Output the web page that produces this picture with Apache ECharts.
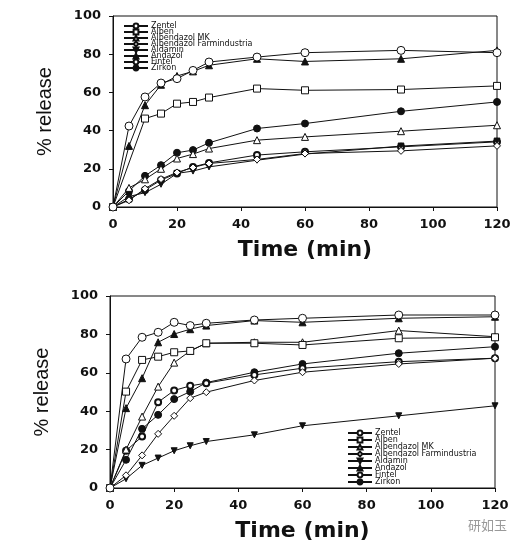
<!DOCTYPE html>
<html><head><meta charset="utf-8">
<script src="https://cdn.jsdelivr.net/npm/echarts@6/dist/echarts.min.js"></script>
<style>html,body{margin:0;padding:0;background:#fff}#c{width:524px;height:553px}</style>
</head><body><div id="c"></div>
<script>
const times = [0, 5, 10, 15, 20, 25, 30, 45, 60, 90, 120];
const names = ['Zentel','Alben','Albendazol MK','Albendazol Farmindustria','Aldamin','Andazol','Fintel','Zirkon'];
const xTicks = [0, 20, 40, 60, 80, 100, 120];
const yTicks = [0, 20, 40, 60, 80, 100];

// Top panel
const topZentel   = [0, 42.4, 57.6, 64.9, 67.2, 71.5, 75.9, 78.5, 80.8, 82.0, 80.8];
const topAlben    = [0, null, 46.3, 48.9, 54.1, 55.0, 57.3, 62.0, 61.1, 61.5, 63.4];
const topMK       = [0, 10.0, 14.5, 20.0, 25.4, 27.7, 30.6, 35.0, 36.7, 39.7, 42.8];
const topFarm     = [0, 3.5, 9.6, 14.6, 18.1, 20.7, 22.8, 24.9, 28.0, 29.4, 32.0];
const topAldamin  = [0, 5.5, 7.5, 11.9, 17.6, 18.8, 21.0, 24.5, 27.7, 31.9, 34.5];
const topAndazol  = [0, 32.0, 53.3, 64.0, 68.6, 71.0, 74.2, 77.6, 76.2, 77.6, 82.0];
const topFintel   = [0, 4.0, 8.9, 14.1, 17.6, 21.0, 23.1, 27.2, 28.9, 31.5, 34.1];
const topZirkon   = [0, 8.4, 16.3, 21.9, 28.4, 29.8, 33.6, 41.1, 43.7, 50.1, 55.0];

// Bottom panel
const botZentel   = [0, 67.2, 78.5, 81.1, 86.3, 84.6, 85.8, 87.5, 88.4, 90.1, 90.1];
const botAlben    = [0, 50.2, 66.7, 68.4, 70.7, 71.4, 75.4, 75.4, 74.5, 78.0, 78.5];
const botMK       = [0, 20.0, 37.2, 52.8, 65.3, 71.4, 75.4, 75.9, 75.9, 82.0, 78.8];
const botFarm     = [0, 6.6, 17.0, 28.2, 37.6, 46.8, 49.9, 56.0, 60.3, 64.6, 67.6];
const botAldamin  = [0, 4.8, 11.8, 15.6, 19.4, 22.0, 24.2, 27.7, 32.4, 37.6, 42.8];
const botAndazol  = [0, 41.6, 57.2, 75.9, 80.2, 82.7, 84.6, 87.2, 86.3, 88.4, 89.2];
const botFintel   = [0, 19.4, 26.8, 44.7, 50.8, 53.2, 54.6, 58.9, 62.4, 65.8, 67.6];
const botZirkon   = [0, 14.7, 30.8, 38.1, 46.3, 50.2, 54.9, 60.3, 64.6, 70.2, 73.6];

const topData = [topZentel, topAlben, topMK, topFarm, topAldamin, topAndazol, topFintel, topZirkon];
const botData = [botZentel, botAlben, botMK, botFarm, botAldamin, botAndazol, botFintel, botZirkon];

const styles = [
  {symbol:'circle', size:8, fill:'#fff', bw:1},
  {symbol:'rect', size:7, fill:'#fff', bw:1},
  {symbol:'triangle', size:7, fill:'#fff', bw:1},
  {symbol:'diamond', size:7, fill:'#fff', bw:1},
  {symbol:'triangle', size:6, fill:'#111', bw:1, rotate:180},
  {symbol:'triangle', size:7, fill:'#111', bw:1},
  {symbol:'circle', size:6, fill:'#fff', bw:2},
  {symbol:'circle', size:7, fill:'#111', bw:1}
];

const F = 'DejaVu Sans';
function mkSeries(data, idx) {
  return names.map((n, i) => ({
    name: n, type: 'line', xAxisIndex: idx, yAxisIndex: idx,
    data: times.map((t, k) => [t, data[i][k]]).filter(p => p[1] !== null),
    symbol: styles[i].symbol, symbolSize: styles[i].size,
    symbolRotate: styles[i].rotate || 0, showAllSymbol: true,
    lineStyle: {color: '#111', width: 1},
    itemStyle: {color: styles[i].fill, borderColor: '#111', borderWidth: styles[i].bw},
    z: 10 - i, animation: false
  }));
}
function xAx(idx) {
  return {type:'value', gridIndex: idx, min:0, max:120, interval:20,
    name:'Time (min)', nameLocation:'middle', nameGap: 32,
    nameTextStyle:{fontFamily:F, fontWeight:'bold', fontSize:22, color:'#111'},
    axisLine:{lineStyle:{color:'#111', width:1}}, axisTick:{length:4, lineStyle:{color:'#111'}},
    axisLabel:{fontFamily:F, fontWeight:'bold', fontSize:13, color:'#111', margin:11,
      formatter: v => xTicks.includes(v) ? String(v) : ''},
    splitLine:{show:false}};
}
function yAx(idx) {
  return {type:'value', gridIndex: idx, min:0, max:100, interval:20,
    name:'% release', nameLocation:'middle', nameGap: 58,
    nameTextStyle:{fontFamily:'Liberation Sans', fontSize:20, color:'#111'},
    axisLine:{show:true, lineStyle:{color:'#111', width:1}}, axisTick:{show:true, length:4, lineStyle:{color:'#111'}},
    axisLabel:{fontFamily:F, fontWeight:'bold', fontSize:13, color:'#111', margin:12,
      formatter: v => yTicks.includes(v) ? String(v) : ''},
    splitLine:{show:false}};
}
const chart = echarts.init(document.getElementById('c'), null, {renderer:'canvas'});
chart.setOption({
  backgroundColor:'#fff',
  animation:false,
  grid:[
    {left:113, right:27, top:16, bottom:346, show:true, borderColor:'#111', borderWidth:1},
    {left:110, right:29, top:296, bottom:65, show:true, borderColor:'#111', borderWidth:1}
  ],
  xAxis:[xAx(0), xAx(1)],
  yAxis:[yAx(0), yAx(1)],
  legend:[
    {orient:'vertical', left:118, top:17, itemWidth:24, itemHeight:6, itemGap:-2, data:names,
      selectedMode:false, textStyle:{fontFamily:F, fontSize:8, lineHeight:6, color:'#111', padding:[0,0,0,-2]}},
    {orient:'vertical', left:342, top:424, itemWidth:24, itemHeight:6, itemGap:-1, data:names,
      selectedMode:false, textStyle:{fontFamily:F, fontSize:8, lineHeight:6, color:'#111', padding:[0,0,0,-2]}}
  ],
  graphic:[
    {type:'text', left:468, top:519, style:{text:'研如玉', fontFamily:'Noto Sans CJK SC', fontSize:13, fill:'#999'}}
  ],
  series: mkSeries(topData, 0).concat(mkSeries(botData, 1))
});
</script></body></html>
